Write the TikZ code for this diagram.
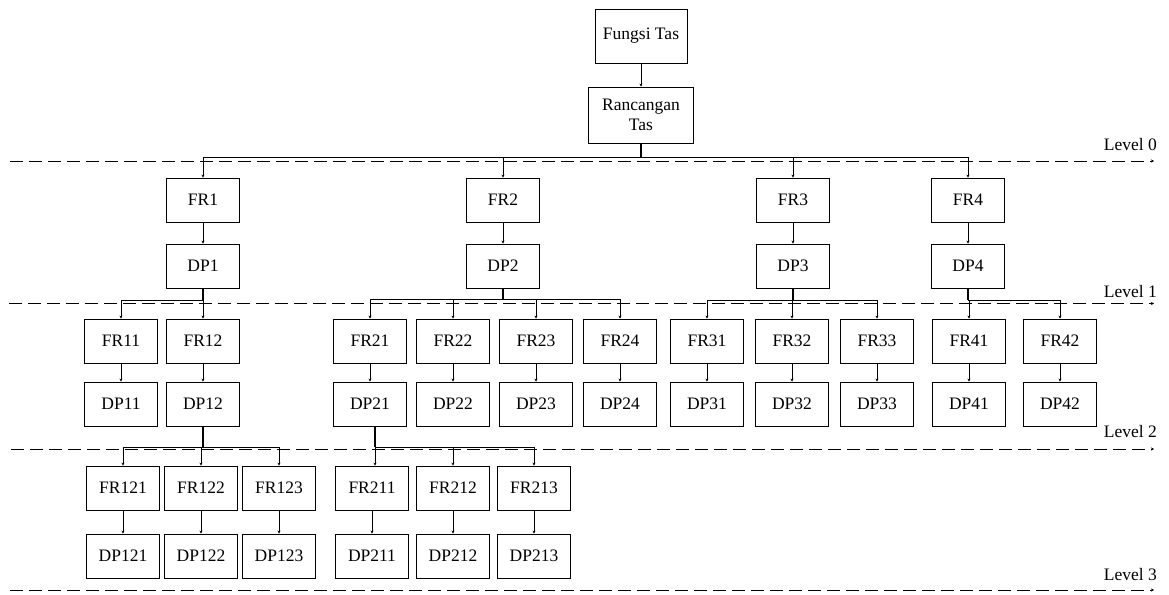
\documentclass[tikz,border=0pt]{standalone}
\usepackage{fontspec}
\setmainfont{Liberation Serif}
\usetikzlibrary{arrows.meta}
\begin{document}
\begin{tikzpicture}[x=1pt,y=-1pt,
  box/.style={draw, line width=0.9pt, minimum width=73pt, minimum height=44pt, inner sep=0pt,
    font=\fontsize{17.5}{20}\selectfont, align=center},
  arr/.style={line width=0.7pt, -{Stealth[length=3pt,width=3pt]}},
  trunk/.style={line width=1.3pt},
  lvl/.style={dash pattern=on 13pt off 6pt, line width=0.9pt, -{Stealth[length=3pt,width=3pt]}},
  lbl/.style={anchor=east, font=\fontsize{17.5}{20}\selectfont, inner sep=0pt}]
\useasboundingbox (0,0) rectangle (1169,594);

% level lines
\coordinate (L0s) at (10,161);  \coordinate (L0e) at (1154,161);
\coordinate (L1s) at (9,303.5); \coordinate (L1e) at (1154,303.5);
\coordinate (L2s) at (11,449);  \coordinate (L2e) at (1154,449);
\coordinate (L3s) at (10,590);  \coordinate (L3e) at (1154,590);
\draw[lvl] (L0s) -- (L0e);
\draw[lvl] (L1s) -- (L1e);
\draw[lvl] (L2s) -- (L2e);
\draw[lvl] (L3s) -- (L3e);
\node[lbl] (T0) at (1157,145) {Level 0};
\node[lbl] (T1) at (1157,292) {Level 1};
\node[lbl] (T2) at (1157,432) {Level 2};
\node[lbl] (T3) at (1157,575) {Level 3};

% top
\node[box, minimum width=92pt, minimum height=54pt] (F0) at (641,36) {Fungsi Tas};
\node[box, minimum width=105pt, minimum height=56pt] (D0) at (641,115) {Rancangan\\Tas};
\draw[arr] (F0) -- (D0);

% level 1
\foreach \n/\x in {1/203,2/503,3/793,4/968}{
  \node[box] (FR\n) at (\x,200) {FR\n};
  \node[box] (DP\n) at (\x,266) {DP\n};
  \draw[arr] (FR\n) -- (DP\n);
}
% level 2
\foreach \n/\x in {11/121,12/203,21/370,22/453,23/536,24/620,31/707,32/792,33/877,41/969,42/1060}{
  \node[box] (FR\n) at (\x,341) {FR\n};
  \node[box] (DP\n) at (\x,404) {DP\n};
  \draw[arr] (FR\n) -- (DP\n);
}
% level 3
\foreach \n/\x in {121/123,122/201,123/279,211/372,212/453,213/534}{
  \node[box] (FR\n) at (\x,488) {FR\n};
  \node[box] (DP\n) at (\x,556) {DP\n};
  \draw[arr] (FR\n) -- (DP\n);
}

% buses
\draw[trunk] (D0.south) -- (D0.south |- 0,157) coordinate (b0);
\foreach \c in {1,2,3,4} \draw[arr] (b0) -| (FR\c.north);

\draw[trunk] (DP1.south) -- (DP1.south |- 0,300) coordinate (b1);
\foreach \c in {11,12} \draw[arr] (b1) -| (FR\c.north);

\draw[trunk] (DP2.south) -- (DP2.south |- 0,299) coordinate (b2);
\foreach \c in {21,22,23,24} \draw[arr] (b2) -| (FR\c.north);

\draw[trunk] (DP3.south) -- (DP3.south |- 0,300) coordinate (b3);
\foreach \c in {31,32,33} \draw[arr] (b3) -| (FR\c.north);

\draw[trunk] (DP4.south) -- (DP4.south |- 0,300) coordinate (b4);
\foreach \c in {41,42} \draw[arr] (b4) -| (FR\c.north);

\draw[trunk] (DP12.south) -- (DP12.south |- 0,447) coordinate (b12);
\foreach \c in {121,122,123} \draw[arr] (b12) -| (FR\c.north);

\path ([xshift=5pt]DP21.south) coordinate (t21);
\draw[trunk] (t21) -- (t21 |- 0,447) coordinate (b21);
\draw[arr] (b21) -- (b21 |- FR211.north);
\foreach \c in {212,213} \draw[arr] (b21) -| (FR\c.north);
\end{tikzpicture}
\end{document}
